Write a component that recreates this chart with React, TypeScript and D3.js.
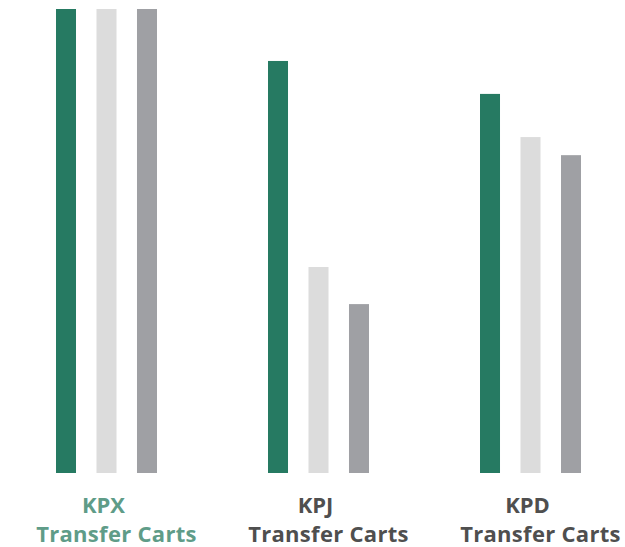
import React from "react";
import * as d3 from "d3";

const categories = ["KPX", "KPJ", "KPD"];
const subLabel = "Transfer Carts";
const series = ["s1", "s2", "s3"];
const seriesA = [100, 88.8, 81.7];
const seriesB = [100, 44.4, 72.4];
const seriesC = [100, 36.4, 68.5];
const seriesColors = ["#267a62", "#dcdcdc", "#9fa0a4"];
const labelColors = ["#5f9c88", "#4f4f4f", "#4f4f4f"];

export default function App() {
  const W = 625;
  const H = 547;
  const values = [seriesA, seriesB, seriesC];
  const x0 = d3.scaleBand<string>().domain(categories).range([56, 581]).paddingInner(0.5236).paddingOuter(0);
  const x1 = d3.scaleBand<string>().domain(series).range([0, x0.bandwidth()]).paddingInner(0.506).paddingOuter(0);
  const y = d3.scaleLinear().domain([0, 100]).range([473, 9]);

  return (
    <svg width={W} height={H} style={{ position: "absolute", left: 0, top: 0, background: "#fff" }}>
      {categories.map((c, gi) => (
        <g key={c} transform={`translate(${x0(c)},0)`}>
          {series.map((s, si) => (
            <rect
              key={s}
              x={x1(s)}
              y={y(values[si][gi])}
              width={x1.bandwidth()}
              height={y(0) - y(values[si][gi])}
              fill={seriesColors[si]}
            />
          ))}
          <text
            x={x0.bandwidth() / 2 - 3}
            y={513}
            textAnchor="middle"
            fontFamily="'Open Sans', sans-serif"
            fontWeight={700}
            fontSize={22}
            fill={labelColors[gi]}
          >
            {c}
          </text>
          <text
            x={x0.bandwidth() / 2 + 10}
            y={542}
            textAnchor="middle"
            fontFamily="'Open Sans', sans-serif"
            fontWeight={700}
            fontSize={22}
            letterSpacing={0.3}
            fill={labelColors[gi]}
          >
            {subLabel}
          </text>
        </g>
      ))}
    </svg>
  );
}
